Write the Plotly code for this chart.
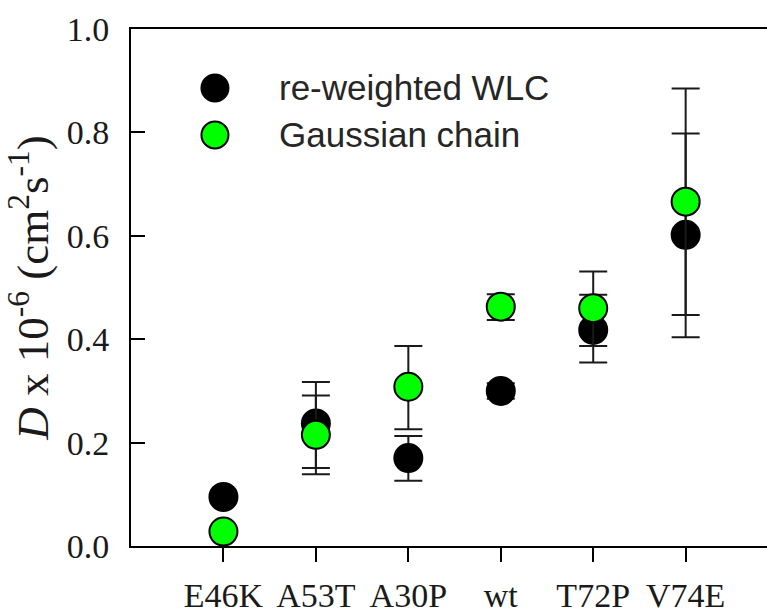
import plotly.graph_objects as go

categories = ["E46K", "A53T", "A30P", "wt", "T72P", "V74E"]

wlc_values = [0.095, 0.237, 0.170, 0.300, 0.418, 0.602]
wlc_err_plus = [0.0, 0.080, 0.043, 0.015, 0.068, 0.196]
wlc_err_minus = [0.0, 0.086, 0.044, 0.015, 0.063, 0.198]

gauss_values = [0.028, 0.215, 0.308, 0.463, 0.460, 0.666]
gauss_err_plus = [0.0, 0.076, 0.079, 0.024, 0.071, 0.219]
gauss_err_minus = [0.0, 0.076, 0.082, 0.026, 0.073, 0.219]

legend_names = ["re-weighted WLC", "Gaussian chain"]
y_ticks = [0.0, 0.2, 0.4, 0.6, 0.8, 1.0]

BLACK = "#000000"
GREEN = "#00ff00"
SERIF = "Liberation Serif, Times New Roman, serif"
SANS = "Liberation Sans, Arial, sans-serif"

fig = go.Figure()

def add_series(vals, ep, em, color, name):
    fig.add_trace(go.Scatter(
        x=categories, y=vals, mode="markers", name=name, showlegend=False,
        marker=dict(size=28, color=color, line=dict(color=BLACK, width=2)),
        error_y=dict(type="data", symmetric=False, array=ep, arrayminus=em,
                     color="#1a1a1a", thickness=2, width=14),
        cliponaxis=False,
    ))

add_series(wlc_values, wlc_err_plus, wlc_err_minus, BLACK, legend_names[0])
add_series(gauss_values, gauss_err_plus, gauss_err_minus, GREEN, legend_names[1])

# legend drawn as shapes + annotations (to keep large symbols)
legend_colors = [BLACK, GREEN]
legend_y = [0.886, 0.795]
for name, col, ly in zip(legend_names, legend_colors, legend_y):
    fig.add_shape(type="circle", xref="paper", yref="paper",
                  xsizemode="pixel", ysizemode="pixel",
                  xanchor=0.132, yanchor=ly, x0=-13.5, x1=13.5, y0=-13.5, y1=13.5,
                  fillcolor=col, line=dict(color=BLACK, width=2))
    fig.add_annotation(xref="paper", yref="paper", x=0.2296, y=ly,
                       xanchor="left", yanchor="middle", showarrow=False,
                       text=name, font=dict(family=SANS, size=35, color="#262626"))

fig.update_layout(
    width=767, height=616,
    margin=dict(l=131, r=0, t=29, b=70),
    paper_bgcolor="white", plot_bgcolor="white",
    showlegend=False,
)
fig.update_xaxes(
    range=[-1, 5.88], showgrid=False, zeroline=False, automargin=False,
    showline=True, linecolor=BLACK, linewidth=2, mirror=True,
    ticks="outside", ticklen=14, tickwidth=2, tickcolor=BLACK,
    ticklabelstandoff=4,
    tickfont=dict(family=SERIF, size=34, color="#1a1a1a"),
)
fig.update_yaxes(
    range=[0, 1.0], showgrid=False, zeroline=False, automargin=False,
    showline=True, linecolor=BLACK, linewidth=2,
    ticks="inside", ticklen=14, tickwidth=2, tickcolor=BLACK,
    tickvals=y_ticks, tickformat=".1f", ticklabelstandoff=13,
    tickfont=dict(family=SERIF, size=34, color="#1a1a1a"),
    title=dict(text="<i>D</i> x 10<sup>-6</sup> (cm<sup>2</sup>s<sup>-1</sup>)",
               font=dict(family=SERIF, size=45, color="#1a1a1a"), standoff=4),
)

fig.write_html("out.html", config={"displayModeBar": False},
               post_script="document.body.style.margin='0';document.body.style.padding='0';")
